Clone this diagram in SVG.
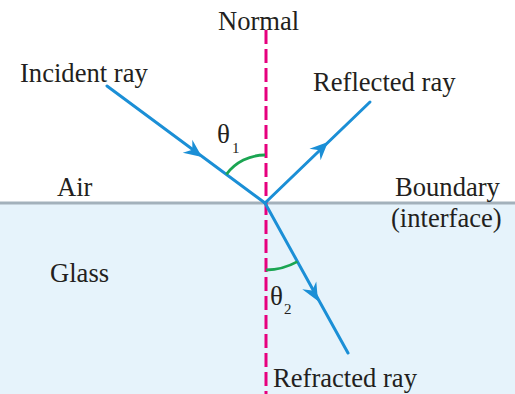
<svg xmlns="http://www.w3.org/2000/svg" width="515" height="394" viewBox="0 0 515 394">
  <style>
    .lbl { font-family: "Liberation Serif", "Times New Roman", serif; font-size: 26.6px; fill: #231f20; }
    .sym { font-family: "Liberation Serif", "Times New Roman", serif; font-size: 27px; fill: #231f20; }
    .sub { font-family: "Liberation Serif", "Times New Roman", serif; font-size: 15px; fill: #231f20; }
    .ray { stroke: #1b8fd6; stroke-width: 3; fill: none; stroke-linecap: round; }
    .arc { stroke: #1ba552; stroke-width: 2.8; fill: none; }
  </style>
  <defs>
    <path id="head" d="M0,0 L-18,-8 L-12,0 L-18,8 Z" fill="#1b8fd6"/>
  </defs>
  <rect width="515" height="394" fill="#ffffff"/>
  <g id="glass">
    <rect x="0" y="203" width="515" height="191" fill="#e6f3fb"/>
    <text class="lbl" x="50" y="282">Glass</text>
  </g>
  <g id="air">
    <text class="lbl" x="57" y="196">Air</text>
  </g>
  <g id="boundary">
    <line x1="0" y1="203" x2="515" y2="203" stroke="#a3b1bb" stroke-width="3.2"/>
    <text class="lbl" x="395" y="196">Boundary</text>
    <text class="lbl" x="391" y="227">(interface)</text>
  </g>
  <g id="normal">
    <line x1="266" y1="30" x2="266" y2="394" stroke="#e6007e" stroke-width="3" stroke-dasharray="14 5"/>
    <text class="lbl" x="218" y="30">Normal</text>
  </g>
  <g id="connectors">
    <g id="incident">
      <line class="ray" x1="107" y1="86" x2="265" y2="203"/>
      <use href="#head" transform="translate(202,157) rotate(36.5)"/>
    </g>
    <g id="reflected">
      <line class="ray" x1="265" y1="203" x2="370" y2="102"/>
      <use href="#head" transform="translate(328,142) rotate(-43.9)"/>
    </g>
    <g id="refracted">
      <line class="ray" x1="265" y1="203" x2="348" y2="353"/>
      <use href="#head" transform="translate(318,301) rotate(61)"/>
    </g>
  </g>
  <g id="angle1">
    <path class="arc" d="M226.4,174.4 A48,48 0 0 1 265,155"/>
    <text class="sym" x="217" y="143">θ</text>
    <text class="sub" x="232" y="153">1</text>
  </g>
  <g id="angle2">
    <path class="arc" d="M266,270 A67,67 0 0 0 297.4,261.6"/>
    <text class="sym" x="270" y="305">θ</text>
    <text class="sub" x="284" y="314">2</text>
  </g>
  <g id="labels">
    <text class="lbl" x="20" y="82">Incident ray</text>
    <text class="lbl" x="313" y="91">Reflected ray</text>
    <text class="lbl" x="273" y="387">Refracted ray</text>
  </g>
</svg>
